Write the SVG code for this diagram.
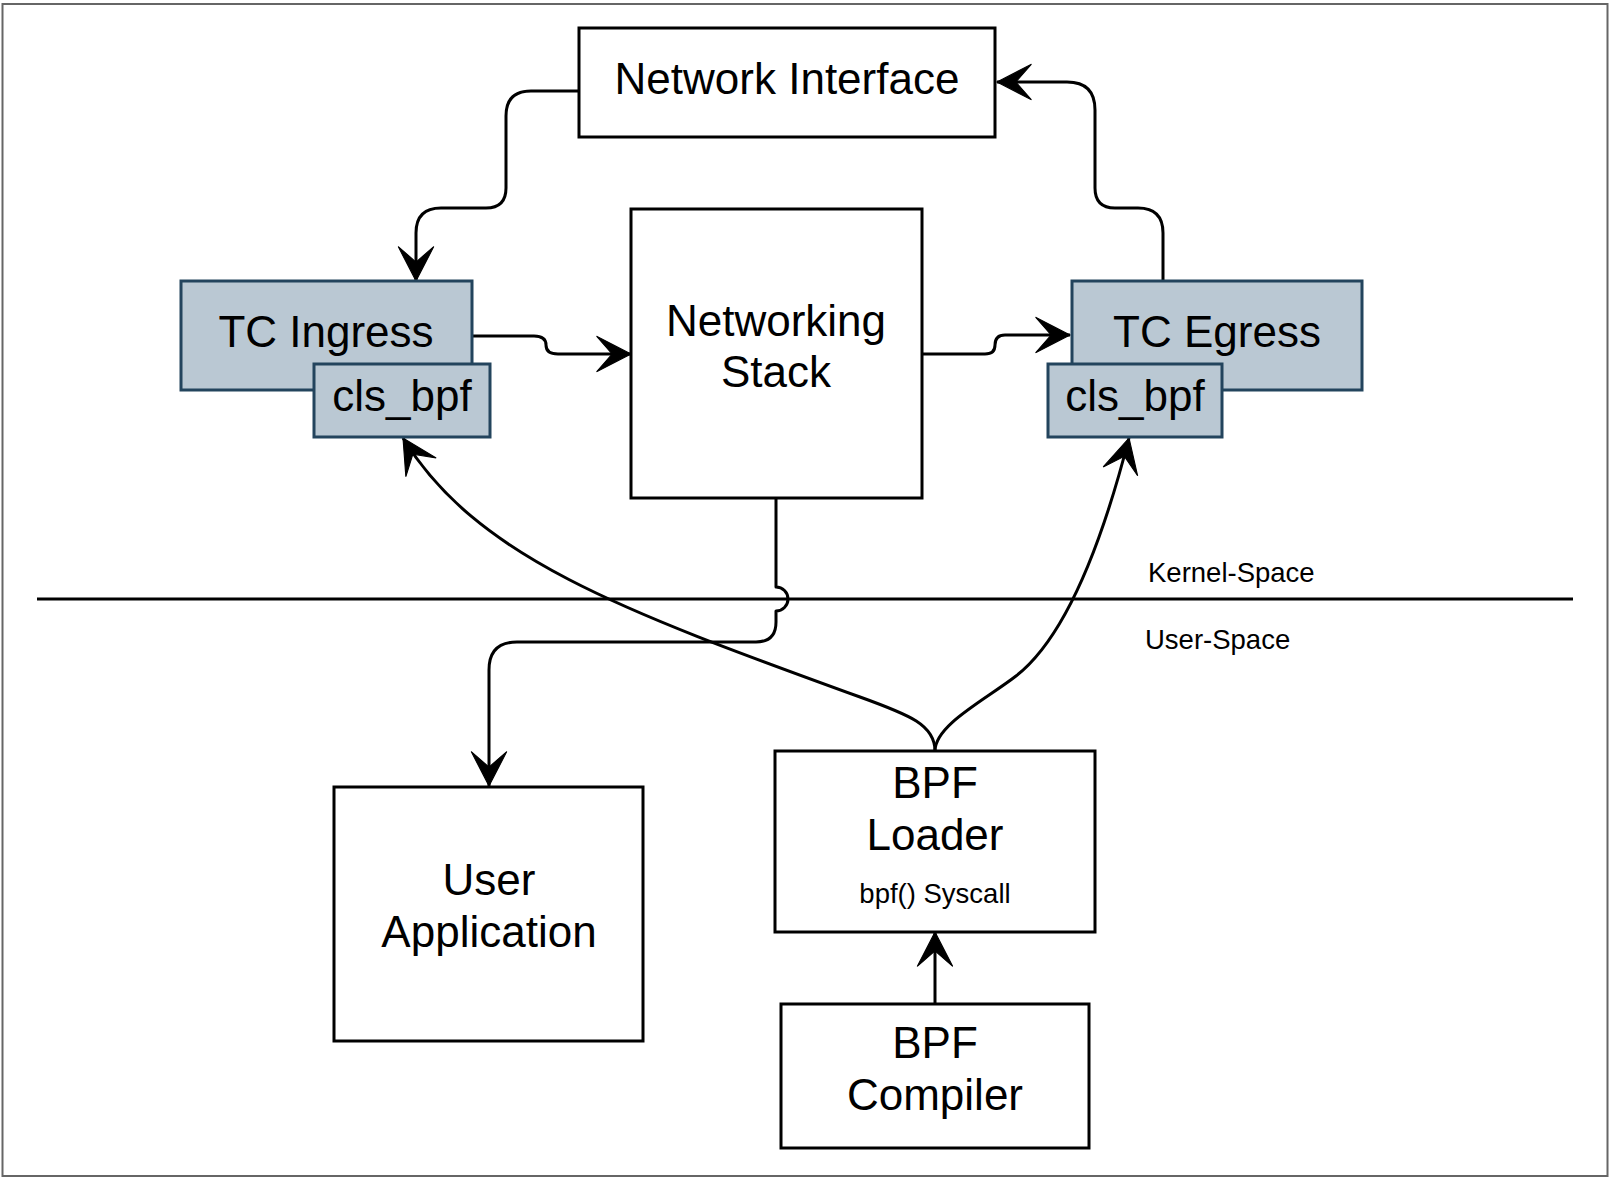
<svg xmlns="http://www.w3.org/2000/svg" width="1614" height="1182" viewBox="0 0 1614 1182">
<style>
  .box { fill: #ffffff; stroke: #000000; stroke-width: 3; }
  .tc { fill: #bac8d3; stroke: #23445d; stroke-width: 3; }
  .lbl { font-family: "Liberation Sans", Arial, Helvetica, sans-serif; font-size: 44px; fill: #000000; text-anchor: middle; }
  .small { font-family: "Liberation Sans", Arial, Helvetica, sans-serif; font-size: 27.5px; fill: #000000; }
  .edge { fill: none; stroke: #000000; stroke-width: 3; stroke-linejoin: round; }
</style>
<defs>
  <marker id="arrow" markerUnits="userSpaceOnUse" markerWidth="40" markerHeight="40" viewBox="-33 -18 36 36" refX="0" refY="0" orient="auto">
    <path d="M0,0 L-31,-16 L-17,0 L-31,16 Z" fill="#000000" stroke="#000000" stroke-width="1" stroke-linejoin="miter"/>
  </marker>
</defs>
<rect x="0" y="0" width="1614" height="1182" fill="#ffffff"/>
<rect id="frame" x="2.5" y="4" width="1605" height="1172" fill="#ffffff" stroke="#666666" stroke-width="2"/>

<g id="divider">
  <line x1="37" y1="599" x2="1573" y2="599" stroke="#000000" stroke-width="3"/>
  <text class="small" x="1148" y="582">Kernel-Space</text>
  <text class="small" x="1145" y="649">User-Space</text>
</g>

<g id="connectors">
  <path class="edge" marker-end="url(#arrow)" d="M579,91 L531,91 Q506,91 506,116 L506,188 Q506,208 486,208 L441,208 Q416,208 416,233 L416,281"/>
  <path class="edge" marker-end="url(#arrow)" d="M1163,281 L1163,233 Q1163,208 1138,208 L1115,208 Q1095,208 1095,188 L1095,110 Q1095,82 1067,82 L997,82"/>
  <path class="edge" marker-end="url(#arrow)" d="M472,336 L534,336 Q546,336 546,345 Q546,354 558,354 L631,354"/>
  <path class="edge" marker-end="url(#arrow)" d="M922,354 L985,354 Q995,354 995,345 Q995,335 1005,335 L1070,335"/>
  <path class="edge" marker-end="url(#arrow)" d="M776,498 L776,587 A12,12 0 0 1 776,611 L776,622 Q776,642 756,642 L517,642 Q489,642 489,670 L489,786"/>
  <path class="edge" marker-end="url(#arrow)" d="M935,751 C935,725 910,715 860,697 C620,610 476,557 403,438"/>
  <path class="edge" marker-end="url(#arrow)" d="M935,751 C935,725 985,700 1016,676 C1065,638 1101.5,545 1129,438"/>
  <path class="edge" marker-end="url(#arrow)" d="M935,1004 L935,932"/>
</g>

<g id="network-interface">
  <rect class="box" x="579" y="28" width="416" height="109"/>
  <text class="lbl" x="787" y="94">Network Interface</text>
</g>

<g id="networking-stack">
  <rect class="box" x="631" y="209" width="291" height="289"/>
  <text class="lbl" x="776" y="336">Networking</text>
  <text class="lbl" x="776" y="387">Stack</text>
</g>

<g id="tc-ingress">
  <rect class="tc" x="181" y="281" width="291" height="109"/>
  <text class="lbl" x="326" y="347">TC Ingress</text>
</g>
<g id="cls-bpf-ingress">
  <rect class="tc" x="314" y="364" width="176" height="73"/>
  <text class="lbl" x="402" y="411">cls_bpf</text>
</g>

<g id="tc-egress">
  <rect class="tc" x="1072" y="281" width="290" height="109"/>
  <text class="lbl" x="1217" y="347">TC Egress</text>
</g>
<g id="cls-bpf-egress">
  <rect class="tc" x="1048" y="364" width="174" height="73"/>
  <text class="lbl" x="1135" y="411">cls_bpf</text>
</g>

<g id="user-application">
  <rect class="box" x="334" y="787" width="309" height="254"/>
  <text class="lbl" x="489" y="895">User</text>
  <text class="lbl" x="489" y="947">Application</text>
</g>

<g id="bpf-loader">
  <rect class="box" x="775" y="751" width="320" height="181"/>
  <text class="lbl" x="935" y="798">BPF</text>
  <text class="lbl" x="935" y="850">Loader</text>
  <text class="small" x="935" y="903" text-anchor="middle">bpf() Syscall</text>
</g>

<g id="bpf-compiler">
  <rect class="box" x="781" y="1004" width="308" height="144"/>
  <text class="lbl" x="935" y="1058">BPF</text>
  <text class="lbl" x="935" y="1110">Compiler</text>
</g>
</svg>
